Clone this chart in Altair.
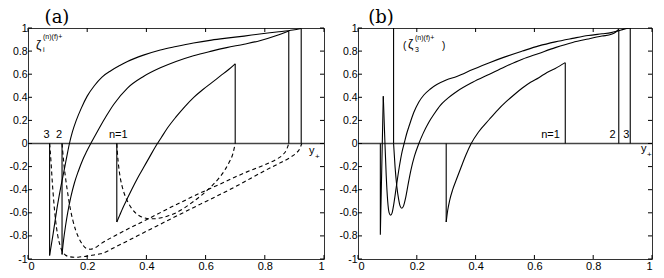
import altair as alt
import pandas as pd

# ---------------- data ----------------
xticks = [0, 0.2, 0.4, 0.6, 0.8, 1]
yticks = [-1, -0.8, -0.6, -0.4, -0.2, 0, 0.2, 0.4, 0.6, 0.8, 1]

# panel (a): solid curves
a1_x = [0.30, 0.31, 0.32, 0.335, 0.35, 0.37, 0.39, 0.41, 0.43, 0.45, 0.47, 0.50, 0.53, 0.56, 0.59, 0.62, 0.65, 0.68, 0.70]
a1_y = [-0.68, -0.62, -0.56, -0.48, -0.40, -0.30, -0.21, -0.12, -0.03, 0.05, 0.13, 0.23, 0.32, 0.40, 0.465, 0.525, 0.585, 0.645, 0.69]
a2_x = [0.115, 0.12, 0.127, 0.134, 0.145, 0.157, 0.17, 0.185, 0.198, 0.212, 0.226, 0.24, 0.265, 0.29, 0.336, 0.39, 0.447, 0.50, 0.559, 0.62, 0.671, 0.73, 0.783, 0.84, 0.881]
a2_y = [-0.96, -0.84, -0.71, -0.60, -0.46, -0.34, -0.24, -0.14, -0.07, 0.0, 0.065, 0.13, 0.24, 0.34, 0.48, 0.58, 0.655, 0.71, 0.76, 0.80, 0.83, 0.86, 0.89, 0.935, 0.975]
a3_x = [0.073, 0.085, 0.10, 0.112, 0.123, 0.132, 0.14, 0.15, 0.163, 0.179, 0.20, 0.224, 0.25, 0.28, 0.31, 0.336, 0.39, 0.447, 0.50, 0.559, 0.62, 0.671, 0.73, 0.783, 0.84, 0.895, 0.923]
a3_y = [-0.97, -0.78, -0.53, -0.36, -0.22, -0.10, 0.0, 0.10, 0.20, 0.30, 0.41, 0.50, 0.575, 0.63, 0.675, 0.71, 0.765, 0.81, 0.84, 0.87, 0.895, 0.912, 0.93, 0.948, 0.965, 0.982, 0.995]
# panel (a): vertical jumps (x, y_from, y_to)
a_jumps = [(0.30, 0.0, -0.68), (0.70, 0.69, 0.0), (0.115, 0.0, -0.96), (0.881, 0.975, 0.0), (0.073, 0.0, -0.97), (0.923, 0.995, 0.0)]
# panel (a): dashed curves
d1_x = [0.30, 0.302, 0.306, 0.312, 0.32, 0.329, 0.34, 0.351, 0.365, 0.379, 0.395, 0.413, 0.43, 0.446, 0.47, 0.50, 0.53, 0.56, 0.59, 0.62, 0.645, 0.665, 0.68, 0.692, 0.70]
d1_y = [0.0, -0.08, -0.19, -0.30, -0.39, -0.46, -0.52, -0.565, -0.605, -0.63, -0.645, -0.652, -0.652, -0.645, -0.63, -0.60, -0.555, -0.50, -0.44, -0.37, -0.30, -0.23, -0.16, -0.09, 0.0]
d2_x = [0.115, 0.117, 0.121, 0.128, 0.136, 0.144, 0.152, 0.161, 0.172, 0.183, 0.195, 0.21, 0.225, 0.245, 0.30, 0.40, 0.50, 0.581, 0.65, 0.70, 0.75, 0.804, 0.84, 0.862, 0.874, 0.881]
d2_y = [0.0, -0.06, -0.17, -0.32, -0.46, -0.58, -0.67, -0.75, -0.82, -0.87, -0.905, -0.915, -0.905, -0.87, -0.79, -0.66, -0.53, -0.43, -0.35, -0.29, -0.235, -0.18, -0.135, -0.095, -0.05, 0.0]
d3_x = [0.073, 0.075, 0.078, 0.082, 0.087, 0.093, 0.10, 0.108, 0.116, 0.126, 0.14, 0.16, 0.18, 0.20, 0.223, 0.245, 0.30, 0.40, 0.50, 0.581, 0.65, 0.70, 0.75, 0.804, 0.85, 0.883, 0.905, 0.918, 0.925]
d3_y = [0.0, -0.06, -0.17, -0.33, -0.50, -0.66, -0.79, -0.88, -0.935, -0.965, -0.98, -0.985, -0.98, -0.975, -0.965, -0.955, -0.89, -0.76, -0.63, -0.527, -0.44, -0.375, -0.305, -0.23, -0.17, -0.125, -0.085, -0.045, 0.0]

# panel (b): solid curves
b1_x = [0.30, 0.305, 0.312, 0.322, 0.335, 0.35, 0.367, 0.385, 0.41, 0.447, 0.475, 0.503, 0.53, 0.559, 0.587, 0.615, 0.643, 0.671, 0.705]
b1_y = [-0.68, -0.58, -0.49, -0.40, -0.31, -0.21, -0.10, 0.0, 0.10, 0.21, 0.29, 0.36, 0.42, 0.48, 0.53, 0.57, 0.615, 0.65, 0.70]
b2_x = [0.121, 0.126, 0.132, 0.138, 0.143, 0.149, 0.155, 0.162, 0.17, 0.18, 0.192, 0.207, 0.222, 0.24, 0.26, 0.28, 0.30, 0.336, 0.39, 0.447, 0.50, 0.559, 0.615, 0.671, 0.73, 0.783, 0.83, 0.862, 0.877, 0.887]
b2_y = [0.0, -0.2, -0.37, -0.48, -0.54, -0.56, -0.54, -0.47, -0.36, -0.23, -0.11, 0.0, 0.09, 0.18, 0.26, 0.33, 0.38, 0.45, 0.53, 0.60, 0.665, 0.73, 0.78, 0.83, 0.875, 0.905, 0.93, 0.945, 0.965, 0.99]
b3_x = [0.086, 0.091, 0.096, 0.101, 0.106, 0.111, 0.116, 0.122, 0.13, 0.14, 0.15, 0.157, 0.165, 0.175, 0.19, 0.207, 0.224, 0.245, 0.268, 0.30, 0.336, 0.39, 0.447, 0.50, 0.559, 0.615, 0.671, 0.73, 0.783, 0.83, 0.861, 0.884, 0.905, 0.926]
b3_y = [0.41, 0.05, -0.28, -0.50, -0.60, -0.62, -0.60, -0.52, -0.38, -0.21, -0.07, 0.0, 0.08, 0.16, 0.27, 0.36, 0.42, 0.47, 0.51, 0.55, 0.58, 0.64, 0.70, 0.75, 0.80, 0.845, 0.88, 0.91, 0.935, 0.95, 0.96, 0.975, 0.99, 1.0]
# panel (b): jumps / spike polylines
b_jumps = [
    ([0.30, 0.30], [0.0, -0.68]),
    ([0.705, 0.705], [0.70, 0.0]),
    ([0.121, 0.121], [1.0, 0.0]),
    ([0.887, 0.887], [0.99, 0.0]),
    ([0.076, 0.076, 0.086], [0.0, -0.79, 0.41]),
    ([0.926, 0.926], [1.0, 0.0]),
]

a_labels = [("3", 0.063, 0.07), ("2", 0.105, 0.07), ("n=1", 0.305, 0.07)]
b_labels = [("n=1", 0.655, 0.07), ("2", 0.866, 0.07), ("3", 0.913, 0.07)]

# ---------------- helpers ----------------
WA, WB, H = 296, 294, 231
FONT = "Liberation Sans, Arial, Helvetica, sans-serif"
SERIF = "DejaVu Serif, Liberation Serif, serif"
LBL = "(datum.value < 0 ? '-' : '') + format(abs(datum.value), '~g')"
sx = alt.Scale(domain=[0, 1], nice=False, zero=False)
sy = alt.Scale(domain=[-1, 1], nice=False, zero=False)
ax = alt.Axis(values=xticks, title=None, tickSize=0, domain=False, grid=False,
              labelFont=FONT, labelFontSize=11, labelColor="black", labelPadding=1,
              minExtent=0, labelExpr=LBL)
ay = alt.Axis(values=yticks, title=None, tickSize=0, domain=False, grid=False,
              labelFont=FONT, labelFontSize=10.5, labelColor="black", labelPadding=1,
              minExtent=0, labelExpr=LBL)


def X(f="x"):
    return alt.X(f + ":Q", scale=sx, axis=ax)


def Y(f="y"):
    return alt.Y(f + ":Q", scale=sy, axis=ay)


def series_df(series):
    rows = []
    for k, (xs, ys) in enumerate(series):
        for i, (x, y) in enumerate(zip(xs, ys)):
            rows.append({"s": k, "i": i, "x": x, "y": y})
    return pd.DataFrame(rows)


def lines(series, interp, dash=None):
    kw = dict(color="black", strokeWidth=1.1, interpolate=interp, clip=True)
    if dash:
        kw["strokeDash"] = dash
    return alt.Chart(series_df(series)).mark_line(**kw).encode(
        x=X(), y=Y(), detail="s:N", order="i:Q")


def frame_ticks(W):
    tx = pd.DataFrame({"t": xticks})
    ty = pd.DataFrame({"t": yticks})
    r = dict(color="black", strokeWidth=1)
    L = 4
    return [
        alt.Chart(tx).mark_rule(**r).encode(x=X("t"), y=alt.value(H), y2=alt.value(H - L)),
        alt.Chart(tx).mark_rule(**r).encode(x=X("t"), y=alt.value(0), y2=alt.value(L)),
        alt.Chart(ty).mark_rule(**r).encode(y=Y("t"), x=alt.value(0), x2=alt.value(L)),
        alt.Chart(ty).mark_rule(**r).encode(y=Y("t"), x=alt.value(W), x2=alt.value(W - L)),
    ]


def zero_line():
    return alt.Chart(pd.DataFrame({"y": [0]})).mark_rule(color="#444", strokeWidth=1.6).encode(y=Y())


def text_labels(labels):
    df = pd.DataFrame(labels, columns=["txt", "x", "y"])
    return alt.Chart(df).mark_text(font=FONT, fontSize=11, color="black", baseline="middle").encode(
        x=X(), y=Y(), text="txt:N")


def ptext(txt, px, py, size, font=FONT, align="left", baseline="middle"):
    return alt.Chart().mark_text(text=txt, font=font, fontSize=size, color="black",
                                 align=align, baseline=baseline).encode(
        x=alt.value(px), y=alt.value(py))


# ---------------- panel (a) ----------------
a_layers = [zero_line()] + frame_ticks(WA) + [
    lines([(a1_x, a1_y), (a2_x, a2_y), (a3_x, a3_y)], "monotone"),
    lines([([x, x], [y0, y1]) for x, y0, y1 in a_jumps], "linear"),
    lines([(d1_x, d1_y), (d2_x, d2_y), (d3_x, d3_y)], "monotone", dash=[4, 3]),
    text_labels(a_labels),
    ptext("(a)", 29, -19, 18, font=SERIF, align="center", baseline="top"),
    ptext("\u03b6", 8, 17, 12),
    ptext("(n)(f)+", 15, 9, 7),
    ptext("i", 15, 22, 7),
    ptext("y", WA - 15, 7 + H / 2, 11),
    ptext("+", WA - 9, 13 + H / 2, 8),
]
panel_a = alt.layer(*a_layers).properties(width=WA, height=H)

# ---------------- panel (b) ----------------
b_layers = [zero_line()] + frame_ticks(WB) + [
    lines([(b1_x, b1_y), (b2_x, b2_y), (b3_x, b3_y)], "monotone"),
    lines(b_jumps, "linear"),
    text_labels(b_labels),
    ptext("(b)", 23, -19, 18, font=SERIF, align="center", baseline="top"),
    ptext("(", 45, 18, 10),
    ptext("\u03b6", 50, 16, 12),
    ptext("(n)(f)+", 57, 10, 7),
    ptext("3", 57, 22, 7),
    ptext(")", 84, 18, 10),
    ptext("y", WB - 11, 5 + H / 2, 11),
    ptext("+", WB - 5, 11 + H / 2, 8),
]
panel_b = alt.layer(*b_layers).properties(width=WB, height=H)

chart = alt.hconcat(panel_a, panel_b, spacing=34, bounds="flush").properties(
    padding={"left": 0, "top": 0, "right": 0, "bottom": 0}
).configure_view(stroke="#333", strokeWidth=1)

chart.save("out.html", embed_options={"renderer": "svg", "actions": False})
